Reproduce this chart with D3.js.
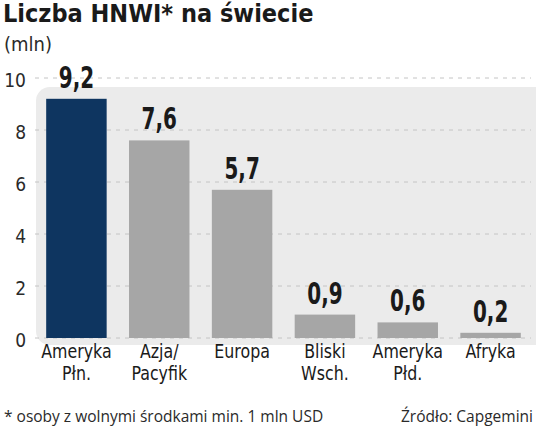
<!DOCTYPE html>
<html>
<head>
<meta charset="utf-8">
<script src="https://cdn.jsdelivr.net/npm/d3@7"></script>
<style>
  body { margin: 0; background: #fff; }
  svg { display: block; }
  .cond { font-family: "DejaVu Sans Condensed", "DejaVu Sans", sans-serif; font-stretch: condensed; }
</style>
</head>
<body>
<svg id="chart" width="536" height="428"></svg>
<script>
// data
var regions = ["Ameryka Płn.", "Azja/ Pacyfik", "Europa", "Bliski Wsch.", "Ameryka Płd.", "Afryka"];
var regionLines = [["Ameryka", "Płn."], ["Azja/", "Pacyfik"], ["Europa"], ["Bliski", "Wsch."], ["Ameryka", "Płd."], ["Afryka"]];
var hnwi = [9.2, 7.6, 5.7, 0.9, 0.6, 0.2];
var valueLabels = ["9,2", "7,6", "5,7", "0,9", "0,6", "0,2"];
var yTicks = [0, 2, 4, 6, 8, 10];

var svg = d3.select("#chart");

var x = d3.scaleBand().domain(regions).range([35, 532]).paddingInner(0.27).paddingOuter(0.135);
var y = d3.scaleLinear().domain([0, 10]).range([338, 78]);

// title
svg.append("text").attr("class", "cond").attr("x", 3).attr("y", 22)
  .attr("font-size", 25).attr("font-weight", "bold").attr("fill", "#1a1a1a")
  .text("Liczba HNWI* na świecie");
svg.append("text").attr("class", "cond").attr("x", 4).attr("y", 51)
  .attr("font-size", 20).attr("fill", "#2a2a2a").text("(mln)");

// grey panel
svg.append("rect").attr("x", 36).attr("y", 87).attr("width", 520).attr("height", 258)
  .attr("rx", 14).attr("fill", "#ebebeb");

// gridlines
svg.append("g").selectAll("line").data(yTicks).enter().append("line")
  .attr("x1", 35).attr("x2", 531)
  .attr("y1", function (d) { return y(d); }).attr("y2", function (d) { return y(d); })
  .attr("stroke", "#c4c4c4").attr("stroke-width", 1).attr("stroke-dasharray", "4,5");

// y axis labels
var yAxis = d3.axisLeft(y).tickValues(yTicks).tickSize(0).tickPadding(0);
var ag = svg.append("g").attr("transform", "translate(26,2)").call(yAxis);
ag.select(".domain").remove();
ag.selectAll("text").attr("class", "cond").attr("font-size", 19).attr("fill", "#2a2a2a")
  .attr("font-family", null);

// bars
svg.append("g").selectAll("rect").data(hnwi).enter().append("rect")
  .attr("x", function (d, i) { return x(regions[i]); })
  .attr("width", x.bandwidth())
  .attr("y", function (d) { return y(d); })
  .attr("height", function (d) { return y(0) - y(d); })
  .attr("fill", function (d, i) { return i === 0 ? "#0e3560" : "#a6a6a6"; });

// value labels (narrowed to mimic the condensed face)
svg.append("g").selectAll("text").data(hnwi).enter().append("text")
  .attr("class", "cond")
  .attr("transform", function (d, i) {
    return "translate(" + (x(regions[i]) + x.bandwidth() / 2) + "," + (y(d) - 11) + ") scale(0.74,1)";
  })
  .attr("text-anchor", "middle").attr("font-size", 30).attr("font-weight", "bold")
  .attr("fill", "#1a1a1a")
  .text(function (d, i) { return valueLabels[i]; });

// category labels
var cat = svg.append("g").selectAll("text").data(regions).enter().append("text")
  .attr("class", "cond")
  .attr("transform", function (d) {
    return "translate(" + (x(d) + x.bandwidth() / 2) + ",358) scale(0.88,1)";
  })
  .attr("text-anchor", "middle").attr("font-size", 20).attr("fill", "#1a1a1a");
cat.selectAll("tspan").data(function (d, i) { return regionLines[i]; }).enter().append("tspan")
  .attr("x", 0)
  .attr("dy", function (d, i) { return i === 0 ? 0 : 22; })
  .text(function (d) { return d; });

// footer
svg.append("text").attr("x", 4).attr("y", 422)
  .attr("font-family", "'Open Sans', sans-serif").attr("font-size", 15.5).attr("fill", "#2a2a2a")
  .text("* osoby z wolnymi środkami min. 1 mln USD");
svg.append("text").attr("x", 533).attr("y", 422).attr("text-anchor", "end")
  .attr("font-family", "'Open Sans', sans-serif").attr("font-size", 15.5).attr("fill", "#2a2a2a")
  .text("Źródło: Capgemini");
</script>
</body>
</html>
